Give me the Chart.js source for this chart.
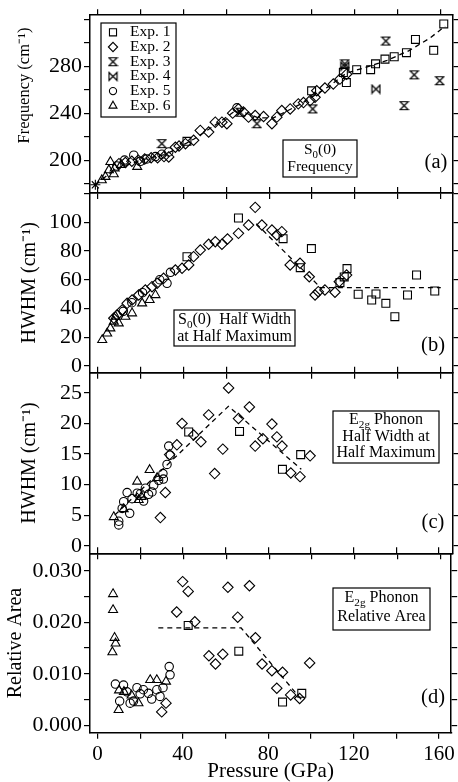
<!DOCTYPE html>
<html>
<head>
<meta charset="utf-8">
<script src="https://cdn.jsdelivr.net/npm/chart.js"></script>
<style>
  html, body { margin: 0; padding: 0; background: #fff; }
  #wrap { position: relative; width: 458px; height: 782px; }
  #wrap canvas { position: absolute; left: 0; top: 0; }
</style>
</head>
<body>
<div id="wrap">
  <canvas id="panelA" width="458" height="782"></canvas>
  <canvas id="panelB" width="458" height="782"></canvas>
  <canvas id="panelC" width="458" height="782"></canvas>
  <canvas id="panelD" width="458" height="782"></canvas>
</div>
<script>
// every pair is [pressure (GPa), value]

// (a) S0(0) frequency, cm-1
var freqExp1 = [[41.7,216],[99.8,259],[114.6,274.6],[116,266],[120.8,277],[127.3,277],[129.6,282],[134,286],[138.3,288],[144,291.5],[148.2,302.8],[156.7,293.5],[161.4,316]];
var freqExp2 = [[10,197],[13,198],[16,199],[19,200],[22,201],[25,202],[28,202],[31,203],[33.2,202.7],[36.3,211],[38,212],[41,214],[44.8,216.9],[47.9,225.3],[51.8,223.9],[54.9,232.3],[58,232.3],[60.3,231],[63,240],[65.7,243.6],[68,241],[70.4,236.6],[73.5,238],[77.4,237.1],[81.3,231],[83.6,236.6],[85.9,242.2],[89.8,243.6],[93.6,247.9],[96,249],[99.1,250.7],[101.4,253.5],[102.2,259.1],[106,261.4],[109.9,264.8],[113,269],[116.1,273.2]];
var freqExp3 = [[30,214],[66.5,240.8],[74.3,231],[100.3,243.6],[115.3,282],[134.4,301.4],[142.9,246.4],[147.6,272.6],[159.5,267.6]];
var freqExp4 = [[115.3,280],[129.8,260.5]];
var freqExp5 = [[9,195],[12.6,200],[16.9,204.2],[20,199],[23,201],[27,203],[30,205],[33.2,207],[65,244.5]];
var freqExp6 = [[2,183],[3.7,185.8],[5.3,191.5],[6,198.5],[7.6,188],[8,193],[11,196],[18.5,194.3]];
var freqZero = [[-1,179]];
var freqFit = [[-1,179],[8,192],[20,200],[32,205],[45,218],[55,230],[65,243],[75,236],[82,236],[95,248],[108,263],[116,274],[125,279],[135,285],[145,293],[155,304],[162,314]];

// (b) S0(0) half width at half maximum, cm-1
var hwhmExp1 = [[41.7,76],[65.7,103],[86.5,88.6],[94.5,68.4],[99.7,81.7],[113,58],[115,62],[116.3,67.8],[121.5,49.9],[127.8,45.9],[129.8,50.1],[134.4,43.6],[138.6,34.3],[144.5,49.4],[148.7,63.3],[157.2,52.2]];
var hwhmExp2 = [[7.6,33.2],[9.2,35.5],[11.5,39],[13.8,43.6],[16.1,45.9],[19.2,49.4],[22.3,52.9],[25.4,55.2],[27.8,57.6],[30.8,61],[36.3,66.8],[39.4,68],[42.5,70.3],[44.8,76.1],[47.9,80.7],[51.8,84.7],[54.9,86.5],[58,84.7],[60.6,88.4],[65.7,92.3],[70.4,98.1],[73.5,110.4],[76.6,98.1],[81.3,94.6],[83.6,91.2],[85.9,93.5],[89.8,70.3],[94.4,71.5],[98.7,62.1],[101.4,49.4],[102.9,51.7],[106,52.9],[110.7,51.3],[112.7,58.7],[116.1,63.3]];
var hwhmExp5 = [[12,38],[16,44],[21,51],[29,60],[32.4,57.5],[34,65.2]];
var hwhmExp6 = [[2.2,18.1],[4.5,22.7],[6,26.2],[7.6,30.9],[8.4,34.4],[9.9,29.7],[13,34.3],[16.1,36.7],[20.8,43.6],[24.3,46],[27,49.4]];
var hwhmFit = [[74,99],[104,54.5],[160,54.5]];

// (c) E2g phonon half width at half maximum, cm-1
var phonExp1 = [[42.5,18.6],[66.2,18.7],[86.2,12.5],[94.7,14.9]];
var phonExp2 = [[29.3,4.6],[31.6,8.7],[33.6,14.9],[37,16.5],[39.4,20],[44.8,18.1],[48.2,17],[51.8,21.4],[54.6,11.8],[58.4,15.8],[61.1,25.8],[65.7,20.8],[70.8,22.7],[73.5,16.3],[77.1,17.5],[81.3,19.9],[83.6,17.8],[86,16.3],[90.1,11.9],[94.4,11.3],[99.1,14.7]];
var phonExp5 = [[9.9,3.4],[9.9,4],[11.5,6.1],[12.2,7.2],[13.8,8.7],[15,5.3],[16.1,7.7],[18.5,8.6],[20,8.5],[21.5,7.3],[22.3,9.4],[23.8,8.4],[25.4,8.8],[26.2,9.9],[28.5,10.7],[30.5,11.8],[30.7,10.9],[32.4,13.3],[33.2,16.3],[33.9,14.8]];
var phonExp6 = [[7.6,4.7],[12.2,6],[18.5,10.5],[19.2,7.5],[20.5,8],[24.3,12.4],[27.8,11.1]];
var phonFit = [[8,5],[61,22.8],[95,12.5]];

// (d) E2g phonon relative area
var areaExp1 = [[42.5,0.0194],[66.2,0.0144],[86.7,0.0045],[95.7,0.0062]];
var areaExp2 = [[30.1,0.0026],[32.1,0.0043],[37.1,0.022],[39.9,0.0279],[42.5,0.026],[45.6,0.0201],[52.2,0.0135],[55.3,0.0119],[58.7,0.0138],[61.1,0.0268],[65.7,0.021],[71.2,0.0271],[74,0.017],[77.1,0.0119],[81.7,0.0106],[84,0.0072],[86.7,0.0103],[90.5,0.0059],[94.7,0.0052],[99.4,0.0121]];
var areaExp5 = [[8.4,0.008],[10.4,0.0047],[12.2,0.0078],[13.8,0.0065],[15.3,0.0043],[16.9,0.0047],[18.5,0.0073],[20,0.0061],[21.5,0.0069],[23.9,0.0062],[25.4,0.0051],[27.8,0.0069],[29.3,0.0056],[30.7,0.0073],[33.6,0.0114],[34,0.0098]];
var areaExp6 = [[7,0.0142],[7.3,0.0255],[7.3,0.0224],[8,0.017],[8.5,0.0159],[9.9,0.003],[10.1,0.0068],[12.4,0.0065],[16,0.0058],[19.2,0.0043],[24.7,0.0088],[27.8,0.0088],[32.1,0.0085]];
var areaFit = [[28.5,0.0189],[67.3,0.0189],[95.5,0.005]];

var expLabels = ['Exp. 1', 'Exp. 2', 'Exp. 3', 'Exp. 4', 'Exp. 5', 'Exp. 6'];
var pressureTicks = [0, 40, 80, 120, 160];
var freqTicks = [200, 240, 280];
var hwhmTicks = [0, 20, 40, 60, 80, 100];
var phonTicks = [0, 5, 10, 15, 20, 25];
var areaTicks = [0, 0.01, 0.02, 0.03];

var FONT = '"Liberation Serif", "Times New Roman", serif';

// Exp. 3 / Exp. 4 symbols: hourglass and bow tie
function markImg(sideways) {
  var s = 11, c = document.createElement('canvas');
  c.width = s; c.height = s;
  var g = c.getContext('2d');
  var a = 1.5, b = s - 1.5;
  g.strokeStyle = '#000';
  g.lineWidth = 1.2;
  g.beginPath();
  if (sideways) {
    g.moveTo(a, a); g.lineTo(a, b); g.lineTo(b, a); g.lineTo(b, b);
  } else {
    g.moveTo(a, a); g.lineTo(b, a); g.lineTo(a, b); g.lineTo(b, b);
  }
  g.closePath();
  g.stroke();
  return c;
}

var expStyle = [
  { pointStyle: 'rect', pointRadius: 5.6 },
  { pointStyle: 'rectRot', pointRadius: 5.2 },
  { pointStyle: markImg(false), pointRadius: 5 },
  { pointStyle: markImg(true), pointRadius: 5 },
  { pointStyle: 'circle', pointRadius: 4.2 },
  { pointStyle: 'triangle', pointRadius: 5.2 }
];

function toXY(pts) {
  return pts.map(function (p) { return { x: p[0], y: p[1] }; });
}

function buildSets(series, fit) {
  var sets = [];
  series.forEach(function (pts, i) {
    if (!pts) return;
    sets.push({
      label: expLabels[i],
      data: toXY(pts),
      showLine: false,
      pointStyle: expStyle[i].pointStyle,
      pointRadius: expStyle[i].pointRadius,
      pointBorderWidth: 1.1,
      borderColor: '#000',
      backgroundColor: 'rgba(0,0,0,0)'
    });
  });
  sets.push({
    label: 'fit',
    data: toXY(fit),
    showLine: true,
    pointRadius: 0,
    borderColor: '#000',
    borderWidth: 1.3,
    borderDash: [5, 4],
    fill: false
  });
  return sets;
}

function onStep(v, step) {
  var q = v / step;
  return Math.abs(q - Math.round(q)) < 1e-6;
}
function keepSteps(step) {
  return function (scale) {
    scale.ticks = scale.ticks.filter(function (t) { return onStep(t.value, step); });
  };
}
function isLabelled(v, list) {
  return list.some(function (t) { return Math.abs(t - v) < 1e-9; });
}

// boxed captions, panel tags and the inset legend
var notesPlugin = {
  id: 'notes',
  afterDraw: function (chart, args, opts) {
    var ctx = chart.ctx;
    ctx.save();
    ctx.strokeStyle = '#000';
    ctx.textBaseline = 'middle';
    (opts.boxes || []).forEach(function (b) {
      ctx.fillStyle = '#fff';
      ctx.fillRect(b.x, b.y, b.w, b.h);
      ctx.lineWidth = 1.2;
      ctx.strokeRect(b.x, b.y, b.w, b.h);
      ctx.fillStyle = '#000';
      b.lines.forEach(function (ln) {
        drawRich(ctx, ln.segs, b.x + b.w / 2, ln.y, b.size);
      });
    });
    if (opts.tag) {
      ctx.fillStyle = '#000';
      ctx.textAlign = 'center';
      ctx.font = '20.5px ' + FONT;
      ctx.fillText(opts.tag.text, opts.tag.x, opts.tag.y);
    }
    if (opts.legend) {
      var L = opts.legend;
      ctx.fillStyle = '#fff';
      ctx.fillRect(L.x, L.y, L.w, L.h);
      ctx.lineWidth = 1.2;
      ctx.strokeRect(L.x, L.y, L.w, L.h);
      ctx.textAlign = 'left';
      ctx.font = '15.5px ' + FONT;
      expLabels.forEach(function (lab, i) {
        var yy = L.y + L.first + i * L.row;
        ctx.fillStyle = 'rgba(0,0,0,0)';
        ctx.lineWidth = 1.1;
        Chart.helpers.drawPoint(ctx, {
          pointStyle: expStyle[i].pointStyle,
          radius: expStyle[i].pointRadius - 0.6,
          rotation: 0,
          borderWidth: 1.1
        }, L.x + 12, yy);
        ctx.fillStyle = '#000';
        ctx.fillText(lab, L.x + 29, yy);
      });
    }
    ctx.restore();
  }
};

function drawRich(ctx, segs, cx, cy, size) {
  var parts = segs.map(function (s) {
    var sub = s[1] === 'sub';
    ctx.font = (sub ? size * 0.7 : size) + 'px ' + FONT;
    return { t: s[0], sub: sub, w: ctx.measureText(s[0]).width };
  });
  var total = parts.reduce(function (a, p) { return a + p.w; }, 0);
  var x = cx - total / 2;
  ctx.textAlign = 'left';
  parts.forEach(function (p) {
    ctx.font = (p.sub ? size * 0.7 : size) + 'px ' + FONT;
    ctx.fillText(p.t, x, cy + (p.sub ? size * 0.3 : 0));
    x += p.w;
  });
}

function panelChart(id, cfg) {
  var last = !!cfg.last;
  var frame = { display: true, color: '#000', width: 1.5 };
  var tickGrid = { drawOnChartArea: false, drawTicks: true, tickLength: 6, color: '#000', lineWidth: 1.2 };
  var yTicks = {
    stepSize: cfg.yStep, maxTicksLimit: 50, includeBounds: false, autoSkip: false,
    padding: 2, color: '#000',
    font: { family: FONT, size: 22 },
    callback: function (v) {
      if (!isLabelled(v, cfg.yLabels)) return '';
      return cfg.yFmt ? cfg.yFmt(v) : String(Math.round(v));
    }
  };
  return new Chart(document.getElementById(id), {
    type: 'scatter',
    data: { datasets: buildSets(cfg.series, cfg.fit) },
    options: {
      responsive: false,
      animation: false,
      devicePixelRatio: 1,
      layout: {
        autoPadding: false,
        padding: { left: 0, right: 0, top: cfg.top - 6, bottom: last ? 0 : 782 - cfg.bottom - 6 }
      },
      plugins: {
        legend: { display: false },
        tooltip: { enabled: false },
        notes: cfg.notes
      },
      scales: {
        x: {
          type: 'linear', position: 'bottom', min: -3.5, max: 165.7,
          grid: tickGrid, border: frame,
          ticks: {
            stepSize: 20, maxTicksLimit: 50, includeBounds: false, autoSkip: false,
            padding: 3, color: '#000', maxRotation: 0,
            font: { family: FONT, size: 21 },
            display: last,
            callback: function (v) { return isLabelled(v, pressureTicks) ? String(v) : ''; }
          },
          title: {
            display: last, text: 'Pressure (GPa)', color: '#000',
            font: { family: FONT, size: 21, lineHeight: 1 }, padding: { top: 0, bottom: 0 }
          },
          afterBuildTicks: keepSteps(20),
          afterFit: function (s) { s.height = last ? 782 - cfg.bottom : 6; }
        },
        xTop: {
          type: 'linear', position: 'top', min: -3.5, max: 165.7,
          grid: tickGrid, border: frame,
          ticks: { stepSize: 20, maxTicksLimit: 50, includeBounds: false, autoSkip: false, display: false },
          afterBuildTicks: keepSteps(20),
          afterFit: function (s) { s.height = 6; }
        },
        y: {
          type: 'linear', position: 'left', min: cfg.yMin, max: cfg.yMax,
          grid: tickGrid, border: frame, ticks: yTicks,
          title: {
            display: true, text: cfg.yTitle, color: '#000', align: cfg.titleAlign || 'center',
            font: { family: FONT, size: cfg.titleSize || 20, lineHeight: 1.2 },
            padding: { top: cfg.titlePad, bottom: 0 }
          },
          afterBuildTicks: keepSteps(cfg.yStep),
          afterFit: function (s) { s.width = 90; }
        },
        yRight: {
          type: 'linear', position: 'right', min: cfg.yMin, max: cfg.yMax,
          grid: tickGrid, border: frame,
          ticks: { stepSize: cfg.yStep, maxTicksLimit: 50, includeBounds: false, autoSkip: false, display: false },
          afterBuildTicks: keepSteps(cfg.yStep),
          afterFit: function (s) { s.width = 5; }
        }
      }
    },
    plugins: [notesPlugin]
  });
}

panelChart('panelA', {
  top: 14, bottom: 193, yMin: 172, yMax: 323.4, yStep: 20, yLabels: freqTicks,
  yTitle: 'Frequency (cm⁻¹)   ', titleAlign: 'end', titleSize: 16.5, titlePad: 15,
  series: [freqExp1, freqExp2, freqExp3, freqExp4, freqExp5, freqExp6],
  fit: freqFit,
  notes: {
    boxes: [{ x: 283, y: 140, w: 74, h: 37, size: 15.5, lines: [
      { segs: [['S'], ['0', 'sub'], ['(0)']], y: 150 },
      { segs: [['Frequency']], y: 167 }
    ] }],
    tag: { text: '(a)', x: 436, y: 163 },
    legend: { x: 101, y: 23, w: 75, h: 94, first: 9.3, row: 14.7 }
  }
});

// the lone point at zero pressure is drawn as an asterisk
(function () {
  var ch = Chart.getChart('panelA');
  ch.data.datasets.push({
    label: 'zero', data: toXY(freqZero), showLine: false,
    pointStyle: 'star', pointRadius: 5, pointBorderWidth: 1.1, borderColor: '#000'
  });
  ch.update();
})();

panelChart('panelB', {
  top: 193, bottom: 372.7, yMin: -4.7, yMax: 120.4, yStep: 20, yLabels: hwhmTicks,
  yTitle: 'HWHM (cm⁻¹)', titlePad: 18,
  series: [hwhmExp1, hwhmExp2, null, null, hwhmExp5, hwhmExp6],
  fit: hwhmFit,
  notes: {
    boxes: [{ x: 174, y: 310, w: 121, h: 36, size: 16, lines: [
      { segs: [['S'], ['0', 'sub'], ['(0)  Half Width']], y: 320 },
      { segs: [['at Half Maximum']], y: 337 }
    ] }],
    tag: { text: '(b)', x: 433, y: 346 }
  }
});

panelChart('panelC', {
  top: 372.7, bottom: 553.3, yMin: -1.24, yMax: 28.3, yStep: 5, yLabels: phonTicks,
  yTitle: 'HWHM (cm⁻¹)', titlePad: 18,
  series: [phonExp1, phonExp2, null, null, phonExp5, phonExp6],
  fit: phonFit,
  notes: {
    boxes: [{ x: 333, y: 411, w: 106, h: 52, size: 16, lines: [
      { segs: [['E'], ['2g', 'sub'], [' Phonon']], y: 420 },
      { segs: [['Half Width at']], y: 437 },
      { segs: [['Half Maximum']], y: 453 }
    ] }],
    tag: { text: '(c)', x: 433, y: 523 }
  }
});

panelChart('panelD', {
  top: 553.3, bottom: 732.7, yMin: -0.00144, yMax: 0.0334, yStep: 0.005, yLabels: areaTicks,
  yFmt: function (v) { return v.toFixed(3); },
  yTitle: 'Relative Area', titlePad: 4, last: true,
  series: [areaExp1, areaExp2, null, null, areaExp5, areaExp6],
  fit: areaFit,
  notes: {
    boxes: [{ x: 333, y: 588, w: 97, h: 42, size: 16, lines: [
      { segs: [['E'], ['2g', 'sub'], [' Phonon']], y: 598 },
      { segs: [['Relative Area']], y: 617 }
    ] }],
    tag: { text: '(d)', x: 433, y: 698 }
  }
});
</script>
</body>
</html>
